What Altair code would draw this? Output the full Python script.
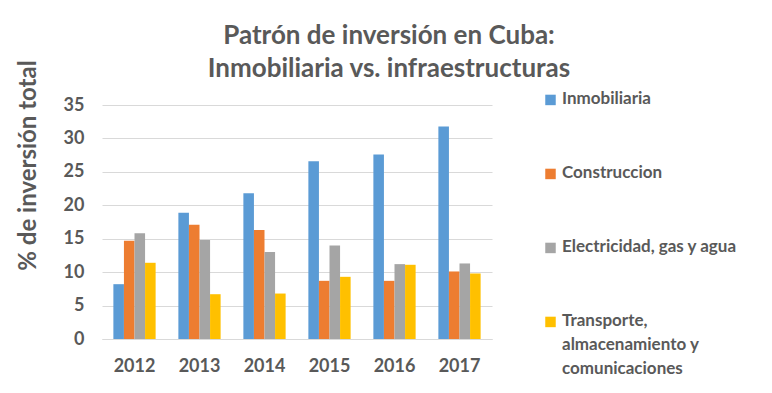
import altair as alt
import pandas as pd

years = ["2012", "2013", "2014", "2015", "2016", "2017"]
series = ["Inmobiliaria", "Construccion", "Electricidad, gas y agua",
          "Transporte, almacenamiento y comunicaciones"]
inmobiliaria = [8.2, 18.9, 21.8, 26.6, 27.6, 31.8]
construccion = [14.7, 17.1, 16.3, 8.7, 8.7, 10.1]
electricidad = [15.8, 14.8, 13.0, 14.0, 11.2, 11.3]
transporte = [11.4, 6.7, 6.8, 9.3, 11.1, 9.8]
colors = ["#5B9BD5", "#ED7D31", "#A5A5A5", "#FFC000"]
y_ticks = [0, 5, 10, 15, 20, 25, 30, 35]

rows = []
for s, vals in zip(series, [inmobiliaria, construccion, electricidad, transporte]):
    for yr, v in zip(years, vals):
        rows.append({"year": yr, "serie": s, "valor": v})
df = pd.DataFrame(rows)

FONT = "Lato"
TXT = "#595959"

chart = alt.Chart(df).mark_bar().encode(
    x=alt.X("year:N", sort=years, title=None,
            scale=alt.Scale(paddingInner=0.35, paddingOuter=0.175),
            axis=alt.Axis(labelAngle=0, labelFont=FONT, labelFontSize=18,
                          labelFontWeight="bold", labelColor=TXT,
                          labelPadding=18, ticks=False, domainColor="#D9D9D9",
                          grid=False)),
    xOffset=alt.XOffset("serie:N", sort=series),
    y=alt.Y("valor:Q", title="% de inversión total",
            scale=alt.Scale(domain=[0, 35], nice=False),
            axis=alt.Axis(values=y_ticks, labelFont=FONT, labelFontSize=18,
                          labelFontWeight="bold", labelColor=TXT,
                          labelPadding=18, ticks=False, domain=False,
                          gridColor="#D9D9D9", titleFont=FONT,
                          titleFontSize=24, titleFontWeight="bold",
                          titleColor=TXT, titleAngle=270, titleX=-74,
                          titleY=60, titleAlign="center",
                          titleBaseline="middle")),
    color=alt.Color("serie:N", sort=series,
                    scale=alt.Scale(domain=series, range=colors),
                    legend=alt.Legend(
                        title=None, orient="none", legendX=440, legendY=-23,
                        symbolType="M-1,0.8H1V2.8H-1Z", symbolSize=110,
                        symbolStrokeWidth=0, labelFont=FONT,
                        labelFontSize=17, labelFontWeight="bold",
                        labelColor=TXT, rowPadding=49, labelLimit=300,
                        labelBaseline="top", labelOffset=3,
                        labelExpr="datum.label == 'Transporte, almacenamiento y comunicaciones' ? ['Transporte,', 'almacenamiento y', 'comunicaciones'] : datum.label",
                    )),
).properties(
    width=390, height=234,
    title=alt.TitleParams(
        text=["Patrón de inversión en Cuba:", "Inmobiliaria vs. infraestructuras"],
        font=FONT, fontSize=26, fontWeight="bold", color=TXT,
        anchor="middle", dx=92, dy=32, lineHeight=33, offset=10,
    ),
    autosize=alt.AutoSizeParams(type="none"),
    padding={"left": 94, "top": 97, "right": 272, "bottom": 46},
).configure_view(stroke=None)
chart.config.style = {"guide-label": {"lineHeight": 24}}

chart.save("out.html", embed_options={"renderer": "svg", "actions": False})
